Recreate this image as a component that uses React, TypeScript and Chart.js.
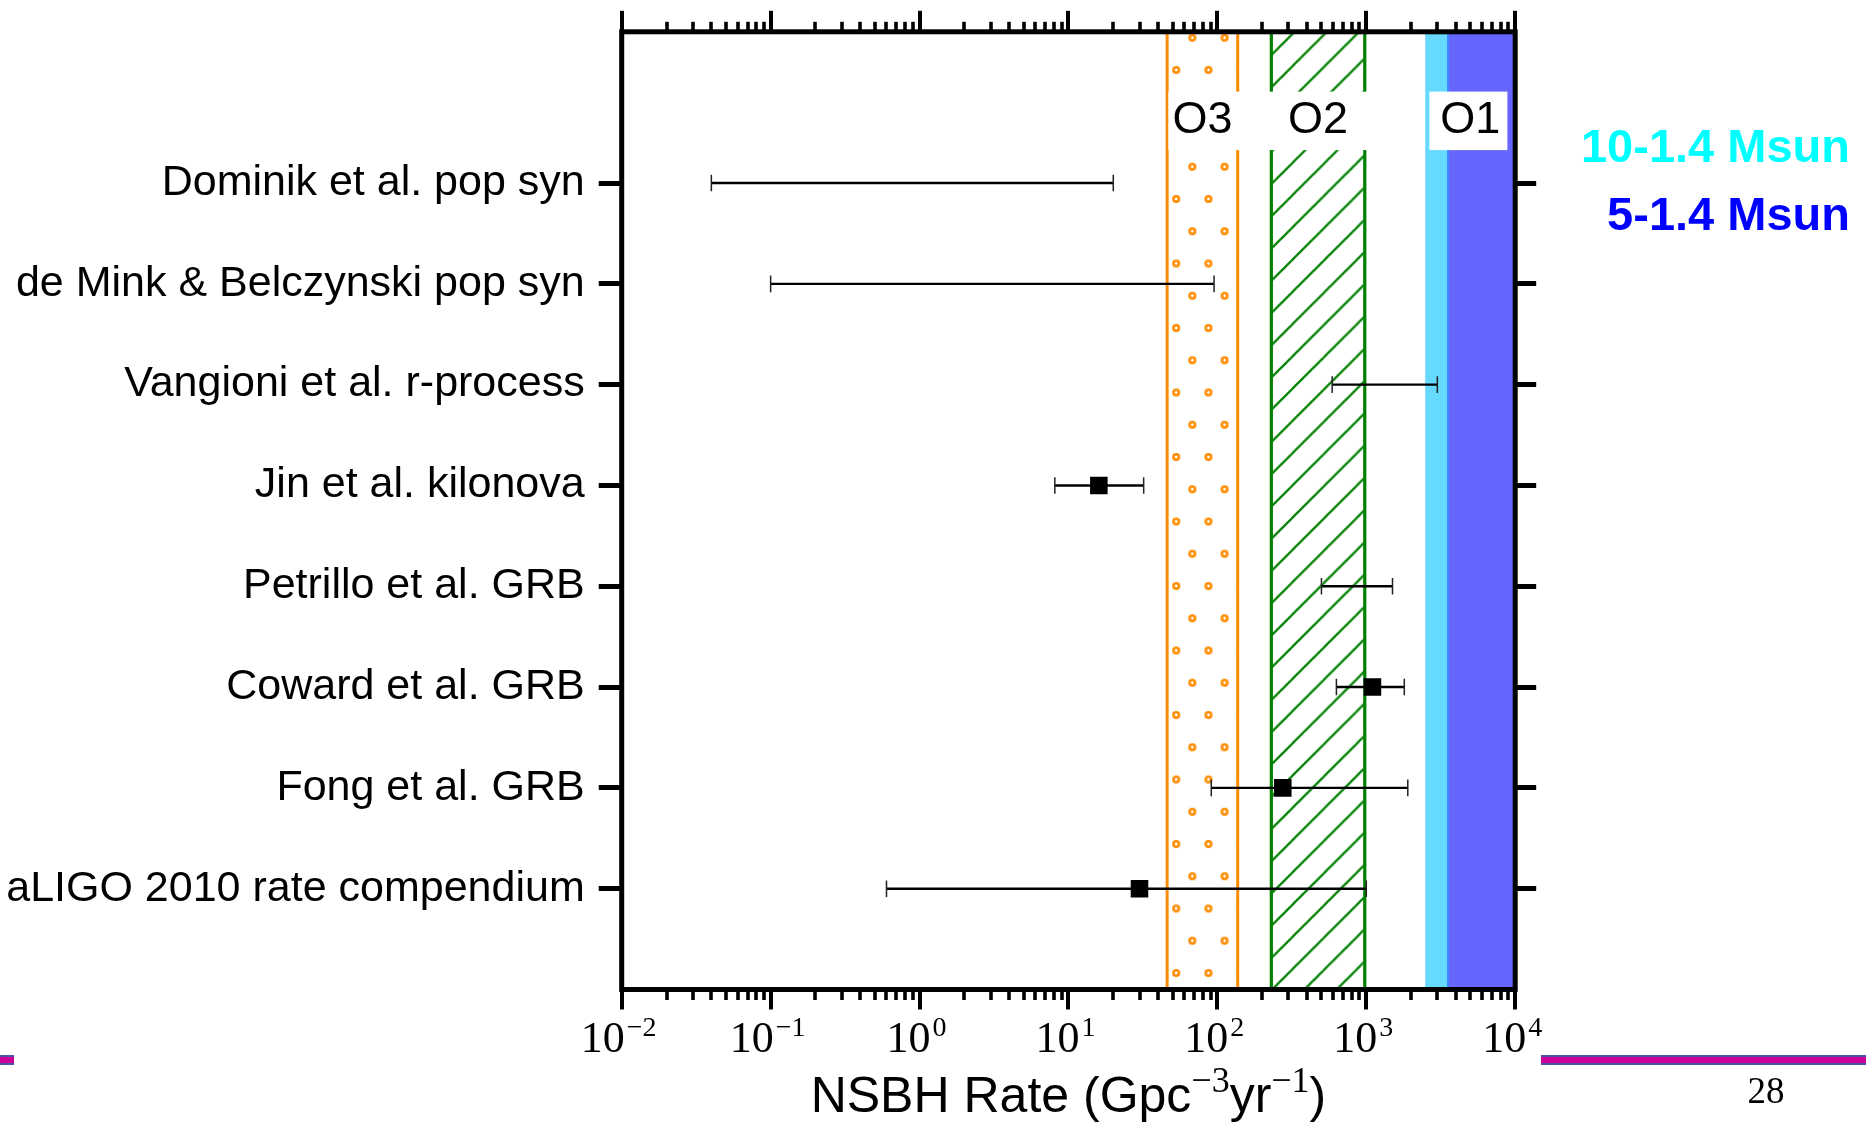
import React, { useEffect, useRef } from 'react';
import { Chart, registerables } from 'chart.js';

Chart.register(...registerables);

// ---------------- data ----------------
const studies = [
  'Dominik et al. pop syn',
  'de Mink & Belczynski pop syn',
  'Vangioni et al. r-process',
  'Jin et al. kilonova',
  'Petrillo et al. GRB',
  'Coward et al. GRB',
  'Fong et al. GRB',
  'aLIGO 2010 rate compendium',
];
const studyRows = [8, 7, 6, 5, 4, 3, 2, 1];
const rateLow = [0.04, 0.1, 590, 8.1, 500, 630, 91, 0.6];
const rateHigh = [20, 95, 3000, 32, 1500, 1800, 1900, 1000];
const rateCentral: (number | null)[] = [null, null, null, 16, null, 1100, 275, 30];

const runNames = ['O3', 'O2', 'O1'];
const runLow = [45, 225, 2500];
const runHigh = [140, 1000, 10000];
const runLabelRow = 8.5;
const o1HeavyLow = 3500; // 5-1.4 Msun band start
const massLabels = ['10-1.4 Msun', '5-1.4 Msun'];
const massColors = ['#00ffff', '#0000ff'];

const xDecadeExponents = [-2, -1, 0, 1, 2, 3, 4];
const xMinorMultipliers = [2, 3, 4, 5, 6, 7, 8, 9];
const xTitleParts = ['NSBH Rate (Gpc', '\u22123', 'yr', '\u22121', ')'];
const pageNumber = '28';

// ---------------- constants ----------------
const W = 1866;
const H = 1122;
const SANS = "'Liberation Sans', Arial, sans-serif";
const SERIF = "'Liberation Serif', 'Times New Roman', serif";
const HATCH_SCALE = 32.25 / 32;
// white label box padding [left, right] around each run label
const runBoxPad = [[4, 10], [22, 22], [11, 7]];

const xTicks: { value: number; major: boolean }[] = [];
xDecadeExponents.forEach((e, i) => {
  xTicks.push({ value: Math.pow(10, e), major: true });
  if (i < xDecadeExponents.length - 1) {
    xMinorMultipliers.forEach((m) => xTicks.push({ value: m * Math.pow(10, e), major: false }));
  }
});

function makeDotPattern(ctx: CanvasRenderingContext2D) {
  const t = document.createElement('canvas');
  t.width = 32;
  t.height = 64;
  const c = t.getContext('2d')!;
  c.strokeStyle = '#ff8c00';
  c.lineWidth = 2.6;
  [[8, 16], [24, 48]].forEach(([x, y]) => {
    c.beginPath();
    c.arc(x, y, 2.7, 0, Math.PI * 2);
    c.stroke();
  });
  const p = ctx.createPattern(t, 'repeat')!;
  p.setTransform(new DOMMatrix([HATCH_SCALE, 0, 0, HATCH_SCALE, -9.0, 21.6]));
  return p;
}

function makeHatchPattern(ctx: CanvasRenderingContext2D) {
  const t = document.createElement('canvas');
  t.width = 32;
  t.height = 32;
  const c = t.getContext('2d')!;
  c.strokeStyle = '#008000';
  c.lineWidth = 2.3;
  [-1, 0, 1, 2].forEach((k) => {
    const cc = 4.02 + 32 * k;
    c.beginPath();
    c.moveTo(cc + 10, -10);
    c.lineTo(-10, cc + 10);
    c.stroke();
  });
  const p = ctx.createPattern(t, 'repeat')!;
  p.setTransform(new DOMMatrix([HATCH_SCALE, 0, 0, HATCH_SCALE, 0, 0]));
  return p;
}

const overlayPlugin = {
  id: 'overlay',
  beforeDraw(chart: any) {
    const ctx: CanvasRenderingContext2D = chart.ctx;
    ctx.save();
    ctx.fillStyle = '#ffffff';
    ctx.fillRect(0, 0, W, H);
    const rule = (x0: number, x1: number) => {
      ctx.fillStyle = '#4b52a8';
      ctx.fillRect(x0, 1055, x1 - x0, 10);
      ctx.fillStyle = '#cc0099';
      ctx.fillRect(x0, 1057, x1 - x0, 6);
    };
    rule(0, 14);
    rule(1541, W);
    ctx.fillStyle = '#000';
    ctx.font = `37px ${SERIF}`;
    ctx.textAlign = 'center';
    ctx.textBaseline = 'alphabetic';
    ctx.fillText(pageNumber, 1766, 1103);
    ctx.restore();
  },
  afterDatasetsDraw(chart: any) {
    const ctx: CanvasRenderingContext2D = chart.ctx;
    const { chartArea, scales } = chart;
    const xs = scales.x;
    const ys = scales.y;
    ctx.save();
    ctx.font = `45px ${SANS}`;
    ctx.textAlign = 'center';
    ctx.textBaseline = 'alphabetic';
    runNames.forEach((name, i) => {
      const cx = xs.getPixelForValue(Math.sqrt(runLow[i] * runHigh[i]));
      const by = ys.getPixelForValue(runLabelRow);
      const w = ctx.measureText(name).width;
      const [pl, pr] = runBoxPad[i];
      ctx.fillStyle = '#ffffff';
      ctx.fillRect(cx - w / 2 - pl, by - 41, w + pl + pr, 58.5);
      ctx.fillStyle = '#000';
      ctx.fillText(name, cx, by);
    });
    ctx.lineWidth = 5;
    ctx.strokeStyle = '#000';
    ctx.strokeRect(chartArea.left, chartArea.top, chartArea.right - chartArea.left, chartArea.bottom - chartArea.top);
    ctx.restore();
  },
  afterDraw(chart: any) {
    const ctx: CanvasRenderingContext2D = chart.ctx;
    const { chartArea, scales } = chart;
    const xs = scales.x;
    ctx.save();
    ctx.fillStyle = '#000';
    ctx.textAlign = 'left';
    ctx.textBaseline = 'alphabetic';
    const baseY = chartArea.bottom + 62;
    const expY = chartArea.bottom + 46;
    xDecadeExponents.forEach((e) => {
      const px = xs.getPixelForValue(Math.pow(10, e));
      const base = '10';
      const exp = String(e).replace('-', '\u2212');
      ctx.font = `44px ${SERIF}`;
      const wb = ctx.measureText(base).width;
      ctx.font = `28px ${SERIF}`;
      const we = ctx.measureText(exp).width;
      const x0 = px - (wb + 2 + we) / 2 - 3;
      ctx.font = `44px ${SERIF}`;
      ctx.fillText(base, x0, baseY);
      ctx.font = `28px ${SERIF}`;
      ctx.fillText(exp, x0 + wb + 2, expY);
    });
    const titleY = 1112;
    const fonts = xTitleParts.map((_, i) => (i % 2 === 1 ? `36px ${SERIF}` : `50px ${SANS}`));
    const widths = xTitleParts.map((t, i) => {
      ctx.font = fonts[i];
      return ctx.measureText(t).width;
    });
    const total = widths.reduce((a, b) => a + b, 0);
    let tx = (chartArea.left + chartArea.right) / 2 - total / 2;
    xTitleParts.forEach((t, i) => {
      ctx.font = fonts[i];
      ctx.fillText(t, tx, i % 2 === 1 ? titleY - 20 : titleY);
      tx += widths[i];
    });
    ctx.font = `bold 47px ${SANS}`;
    ctx.textAlign = 'right';
    massLabels.forEach((t, i) => {
      ctx.fillStyle = massColors[i];
      ctx.fillText(t, 1850, 162 + i * 68);
    });
    ctx.restore();
  },
};

export default function App() {
  const ref = useRef<HTMLCanvasElement>(null);
  useEffect(() => {
    const canvas = ref.current!;
    const ctx = canvas.getContext('2d')!;
    const dots = makeDotPattern(ctx);
    const hatch = makeHatchPattern(ctx);

    const bandDatasets: any[] = [
      {
        type: 'bar', label: runNames[0], indexAxis: 'y', xAxisID: 'x', yAxisID: 'yb', grouped: false,
        data: [[runLow[0], runHigh[0]]], backgroundColor: dots, borderColor: '#ff8c00',
        borderWidth: { left: 2.6, right: 2.6, top: 0, bottom: 0 }, borderSkipped: false,
        barPercentage: 1, categoryPercentage: 1, order: 10,
      },
      {
        type: 'bar', label: runNames[1], indexAxis: 'y', xAxisID: 'x', yAxisID: 'yb', grouped: false,
        data: [[runLow[1], runHigh[1]]], backgroundColor: hatch, borderColor: '#008000',
        borderWidth: { left: 2.8, right: 2.8, top: 0, bottom: 0 }, borderSkipped: false,
        barPercentage: 1, categoryPercentage: 1, order: 10,
      },
      {
        type: 'bar', label: massLabels[0], indexAxis: 'y', xAxisID: 'x', yAxisID: 'yb', grouped: false,
        data: [[runLow[2], runHigh[2]]], backgroundColor: '#66d9ff', borderWidth: 0,
        barPercentage: 1, categoryPercentage: 1, order: 12,
      },
      {
        type: 'bar', label: massLabels[1], indexAxis: 'y', xAxisID: 'x', yAxisID: 'yb', grouped: false,
        data: [[o1HeavyLow, runHigh[2]]], backgroundColor: '#6666ff', borderColor: '#3d8cff',
        borderWidth: { left: 2, right: 0, top: 0, bottom: 0 }, borderSkipped: false,
        barPercentage: 1, categoryPercentage: 1, order: 11,
      },
    ];

    const errDatasets: any[] = studies.map((s, i) => ({
      type: 'line', label: s, xAxisID: 'x', yAxisID: 'y',
      data: [{ x: rateLow[i], y: studyRows[i] }, { x: rateHigh[i], y: studyRows[i] }],
      borderColor: '#000', borderWidth: 2.4, fill: false, tension: 0,
      pointStyle: 'line', pointRotation: 90, pointRadius: 8.3, pointBorderWidth: 1.5,
      pointBorderColor: '#222', pointBackgroundColor: '#222', order: 5,
    }));

    const centralData = rateCentral
      .map((c, i) => (c == null ? null : { x: c, y: studyRows[i] }))
      .filter((p) => p !== null);

    const markerDataset: any = {
      type: 'line', label: 'central', xAxisID: 'x', yAxisID: 'y', data: centralData,
      showLine: false, pointStyle: 'rect', pointRadius: 12.4, pointBorderWidth: 0,
      pointBackgroundColor: '#000', order: 1,
    };

    const majorDash = (c: any) => (c.tick && c.tick.major ? [] : [10, 300]);

    const chart = new Chart(ctx, {
      type: 'bar',
      data: { labels: ['band'], datasets: [...bandDatasets, ...errDatasets, markerDataset] },
      options: {
        responsive: false,
        animation: false,
        devicePixelRatio: 1,
        events: [],
        layout: { padding: 0, autoPadding: false },
        plugins: { legend: { display: false }, tooltip: { enabled: false }, title: { display: false } },
        scales: {
          x: {
            type: 'logarithmic', position: 'bottom', min: 0.01, max: 10000, offset: false,
            afterBuildTicks: (s: any) => { s.ticks = xTicks.map((t) => ({ ...t })); },
            afterFit: (s: any) => { s.height = 132.5; s.paddingLeft = 0; s.paddingRight = 0; },
            border: { display: false },
            grid: {
              offset: false, drawOnChartArea: false, drawTicks: true, tickLength: 20,
              color: '#000', tickColor: '#000', lineWidth: 4,
              tickWidth: (c: any) => (c.tick && c.tick.major ? 4 : 3.6),
              tickBorderDash: majorDash, tickBorderDashOffset: 0,
            },
            ticks: { display: false, autoSkip: false },
          },
          x2: {
            type: 'logarithmic', position: 'top', axis: 'x', min: 0.01, max: 10000, offset: false,
            afterBuildTicks: (s: any) => { s.ticks = xTicks.map((t) => ({ ...t })); },
            afterFit: (s: any) => { s.height = 31.8; s.paddingLeft = 0; s.paddingRight = 0; },
            border: { display: false },
            grid: {
              offset: false, drawOnChartArea: false, drawTicks: true, tickLength: 21,
              color: '#000', tickColor: '#000', lineWidth: 4,
              tickWidth: (c: any) => (c.tick && c.tick.major ? 4 : 3.6),
              tickBorderDash: majorDash,
              tickBorderDashOffset: (c: any) => (c.tick && c.tick.major ? 0 : 299),
            },
            ticks: { display: false, autoSkip: false },
          },
          y: {
            type: 'linear', position: 'left', min: 0, max: 9.5,
            afterBuildTicks: (s: any) => { s.ticks = studyRows.map((v) => ({ value: v })); },
            afterFit: (s: any) => { s.width = 621.7; s.paddingTop = 0; s.paddingBottom = 0; },
            border: { display: false },
            grid: {
              drawOnChartArea: false, drawTicks: true, tickLength: 23,
              color: '#000', tickColor: '#000', lineWidth: 5, tickWidth: 5,
            },
            ticks: {
              autoSkip: false, padding: 14, labelOffset: 0, color: '#000',
              font: { family: SANS, size: 43 },
              callback: (v: any) => studies[studyRows.indexOf(Number(v))] ?? '',
            },
          },
          y2: {
            type: 'linear', position: 'right', axis: 'y', min: 0, max: 9.5,
            afterBuildTicks: (s: any) => { s.ticks = studyRows.map((v) => ({ value: v })); },
            afterFit: (s: any) => { s.width = 350.8; s.paddingTop = 0; s.paddingBottom = 0; },
            border: { display: false },
            grid: {
              drawOnChartArea: false, drawTicks: true, tickLength: 21,
              color: '#000', tickColor: '#000', lineWidth: 5, tickWidth: 5,
            },
            ticks: { display: false, autoSkip: false },
          },
          yb: {
            type: 'category', axis: 'y', position: 'left', display: false, offset: true,
          },
        },
      } as any,
      plugins: [overlayPlugin],
    } as any);

    return () => chart.destroy();
  }, []);

  return (
    <div style={{ position: 'absolute', left: 0, top: 0, width: W, height: H, background: '#fff' }}>
      <canvas ref={ref} width={W} height={H} style={{ display: 'block', width: W, height: H }} />
    </div>
  );
}
